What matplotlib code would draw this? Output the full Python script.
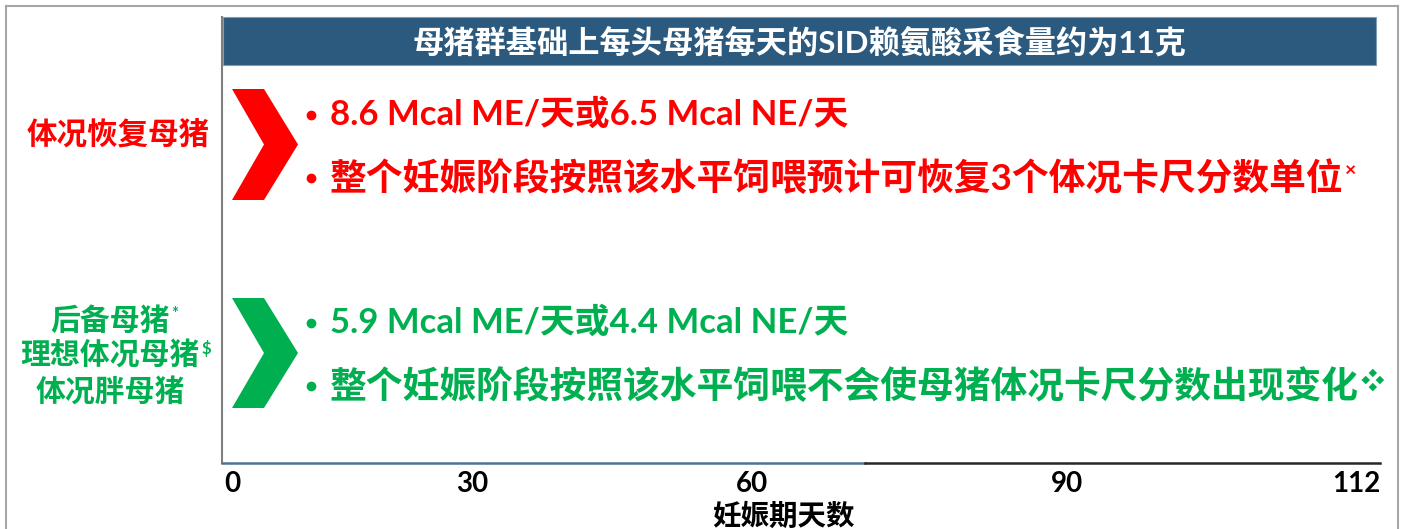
import matplotlib.pyplot as plt
from matplotlib.patches import Polygon, Rectangle

plt.rcParams['font.family'] = ['Lato', 'Noto Sans CJK SC', 'DejaVu Sans']
plt.rcParams['font.weight'] = 'bold'

RED = '#FF0000'
GREEN = '#00B050'
NAVY = '#2B5A7E'

# texts and timeline labels
header = '母猪群基础上每头母猪每天的SID赖氨酸采食量约为11克'
red_group = '体况恢复母猪'
red_lines = ['8.6 Mcal ME/天或6.5 Mcal NE/天',
             '整个妊娠阶段按照该水平饲喂预计可恢复3个体况卡尺分数单位']
red_mark = '×'
green_group = ['后备母猪', '理想体况母猪', '体况胖母猪']
green_group_marks = ['*', '$', '']
green_lines = ['5.9 Mcal ME/天或4.4 Mcal NE/天',
               '整个妊娠阶段按照该水平饲喂不会使母猪体况卡尺分数出现变化']
green_mark = '❖'
tick_labels = ['0', '30', '60', '90', '112']
x_title = '妊娠期天数'

# layout in pixel units
W, H = 1405, 529
tick_x = [232, 472, 752, 1067, 1356]
line_sizes = [25, 26.5]

fig = plt.figure(figsize=(W / 100, H / 100), dpi=100)
ax = fig.add_axes([0, 0, 1, 1])
ax.set_xlim(0, W)
ax.set_ylim(H, 0)
ax.axis('off')

# outer frame
frame = dict(color='#A6A6A6', lw=1.5)
ax.plot([6, 6], [6, H], **frame)
ax.plot([6, 1398], [6, 6], **frame)
ax.plot([1398, 1398], [6, H], **frame)

# header bar
ax.add_patch(Rectangle((223, 17), 1376 - 223, 48, facecolor=NAVY,
                       edgecolor='#7F9DB9', lw=0.8))
ax.text(800, 42, header, color='white', fontsize=22.5, ha='center', va='center')

# timeline axes lines
ax.plot([222, 222], [17, 463], color='#7F7F7F', lw=1.5)
ax.plot([222, 865], [463, 463], color='#4F7396', lw=1.8)
ax.plot([865, 1380], [463, 463], color='#262626', lw=1.8)
for x, lab in zip(tick_x, tick_labels):
    ax.text(x, 484, lab, fontsize=20, ha='center', va='center', color='black')
ax.text(783, 516, x_title, fontsize=20.5, ha='center', va='center', color='black')


def chevron(y0, y1, color):
    ym = (y0 + y1) / 2
    pts = [(232, y0), (264, y0), (298, ym), (264, y1), (232, y1), (264, ym)]
    ax.add_patch(Polygon(pts, closed=True, facecolor=color, edgecolor='none'))


def bullets(lines, ys, color, mark, mark_size):
    last = None
    for line, y, fs in zip(lines, ys, line_sizes):
        ax.plot(311, y, 'o', color=color, markersize=6)
        last = ax.text(330, y, line, color=color, fontsize=fs,
                       ha='left', va='center')
    ax.annotate(mark, xy=(1, 1), xycoords=last, xytext=(1, -1),
                textcoords='offset points', color=color,
                fontsize=mark_size, ha='left', va='top')


# red group
chevron(89, 200, RED)
ax.text(118, 135, red_group, color=RED, fontsize=22, ha='center', va='center')
bullets(red_lines, [115, 178], RED, red_mark, 14)

# green group
chevron(298, 408, GREEN)
for name, sup, y in zip(green_group, green_group_marks, [320, 355, 392]):
    t = ax.text(110, y, name, color=GREEN, fontsize=21.5, ha='center', va='center')
    if sup:
        ax.annotate(sup, xy=(1, 1), xycoords=t, xytext=(1, 0),
                    textcoords='offset points', color=GREEN,
                    fontsize=12, ha='left', va='top')
bullets(green_lines, [323, 386], GREEN, green_mark, 17)

fig.savefig('out.png', dpi=100)
